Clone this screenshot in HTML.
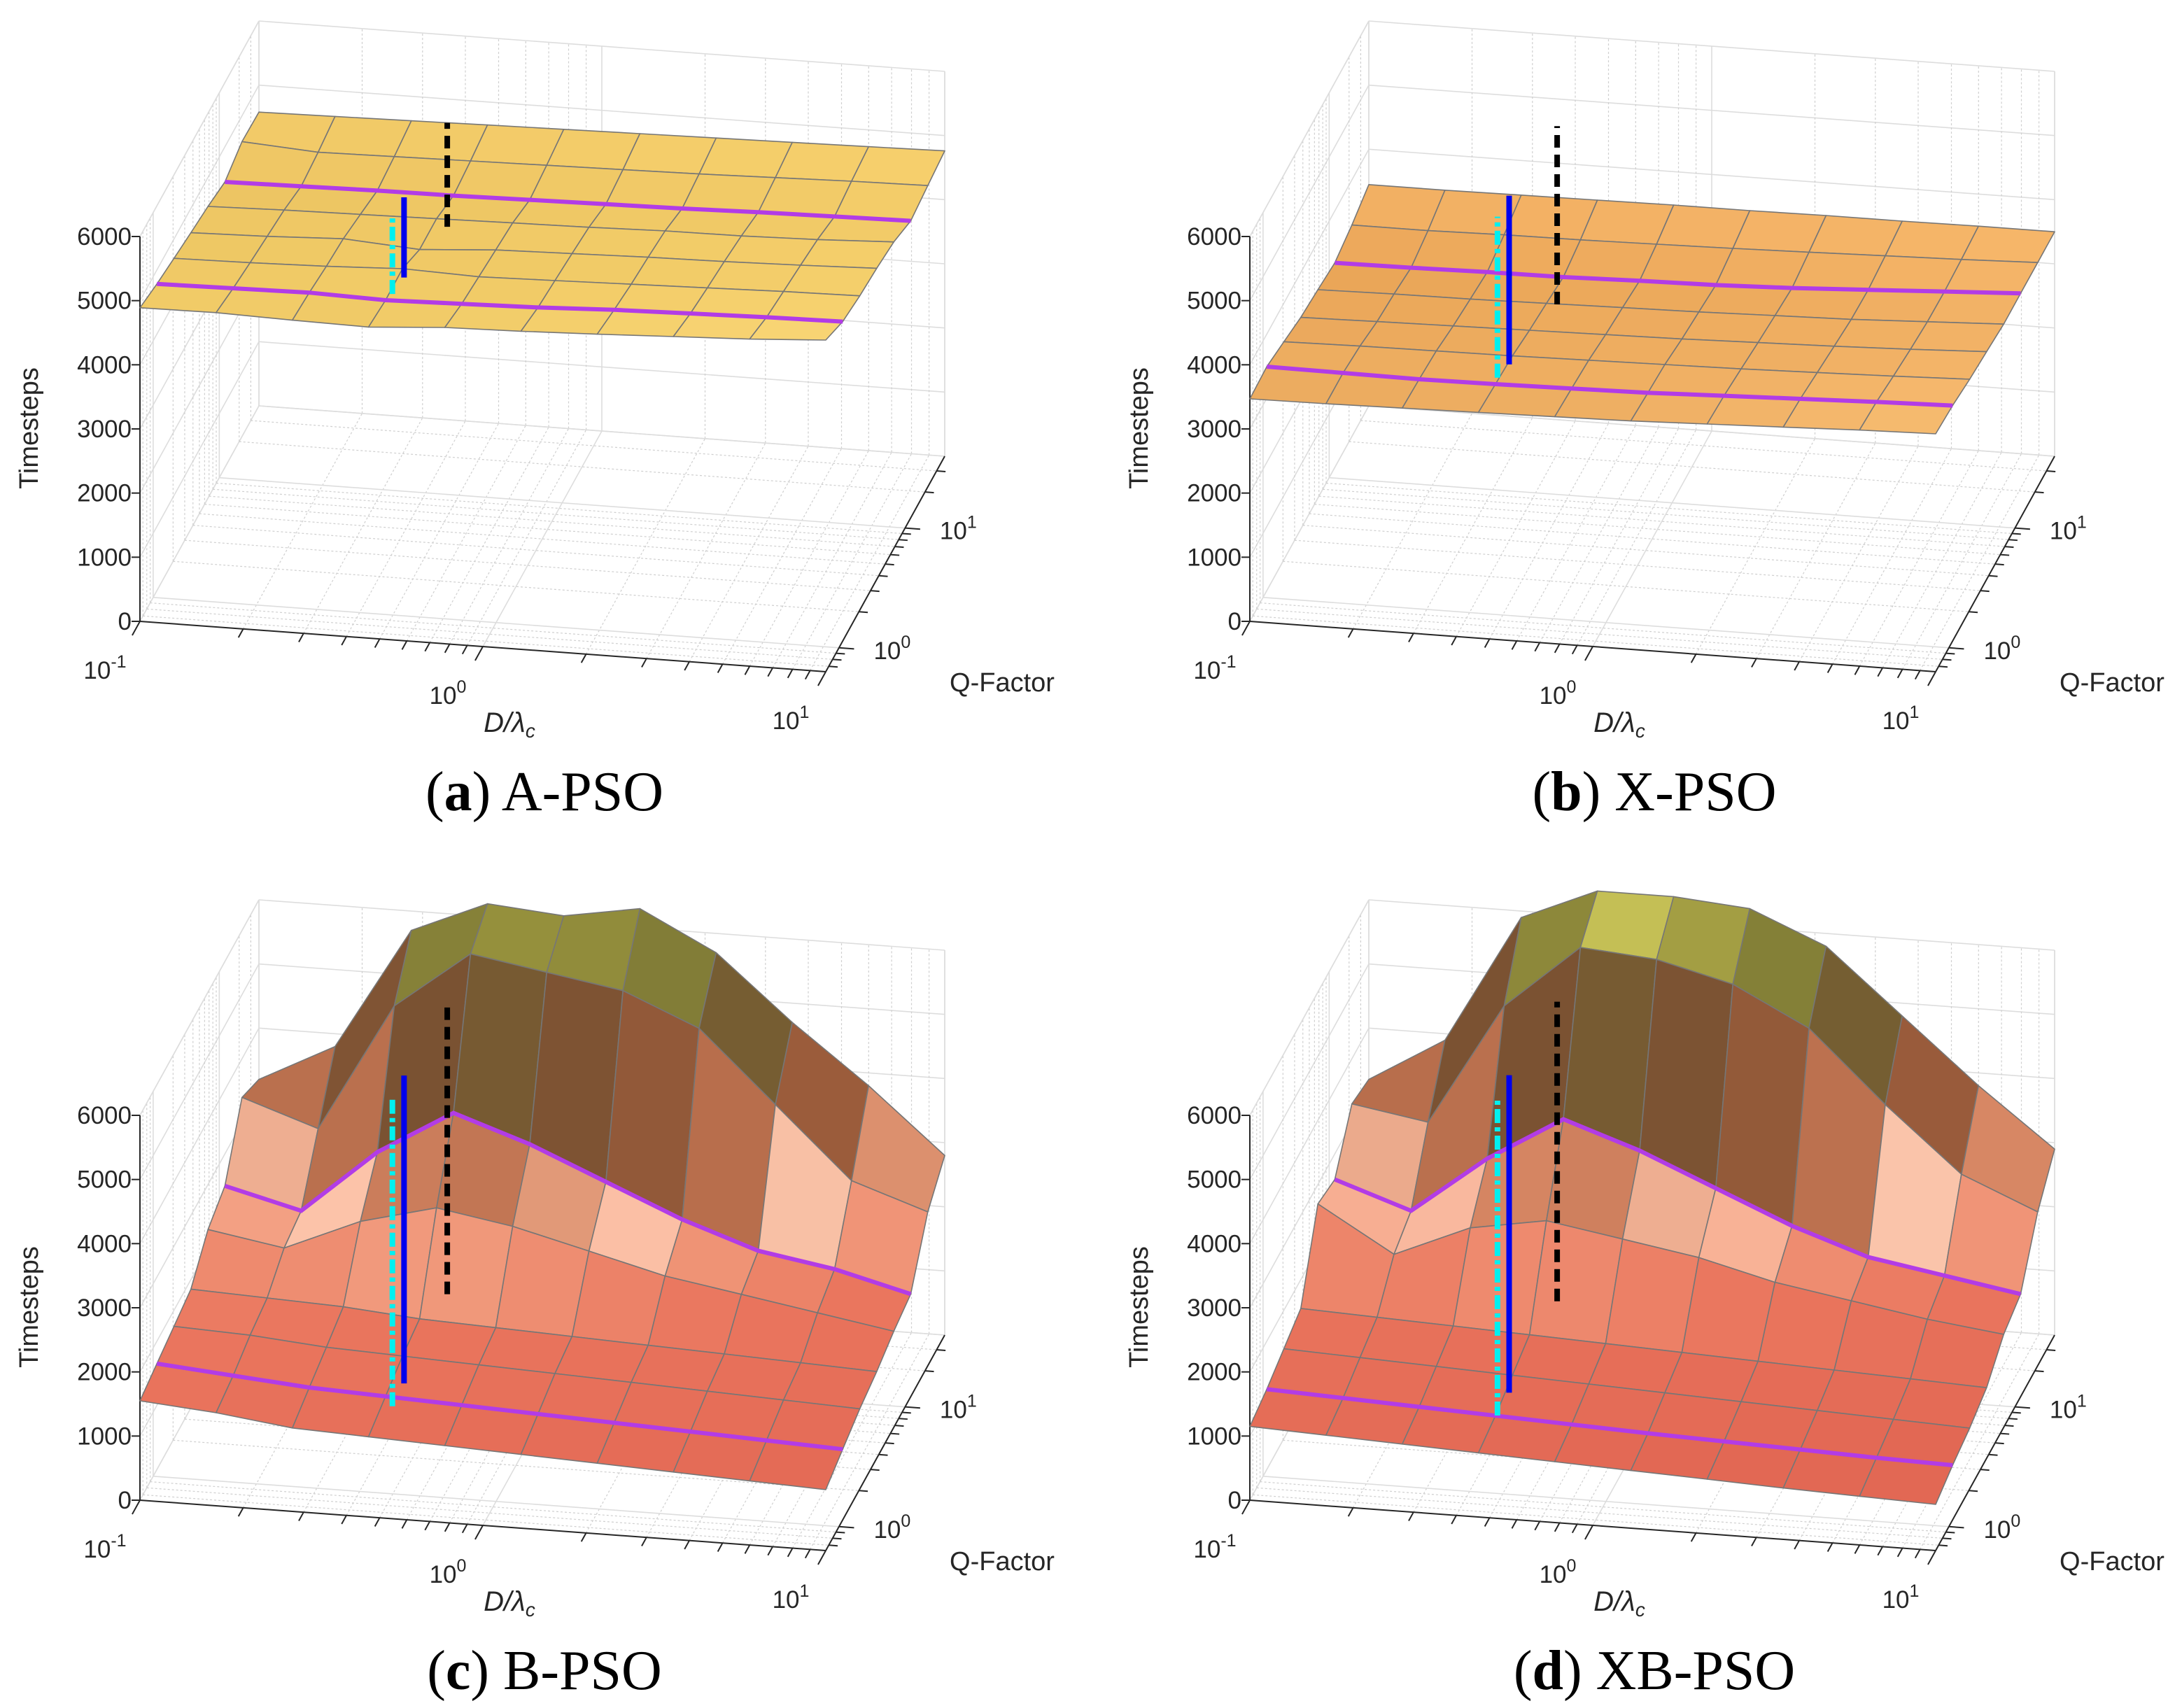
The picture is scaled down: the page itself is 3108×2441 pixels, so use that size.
<!DOCTYPE html>
<html><head><meta charset="utf-8"><style>
html,body{margin:0;padding:0;background:#fff;}
svg{display:block;}
text{font-family:"Liberation Sans",sans-serif;}
.cap{font-family:"Liberation Serif",serif;font-size:40px;}
</style></head><body>
<svg id="fig" width="3108" height="2441" viewBox="0 0 1554 1220.5" xmlns="http://www.w3.org/2000/svg"></svg>
<script>
// ---- data ----
const zTicks = [0,1000,2000,3000,4000,5000,6000];
const dTickLabels = ["-1","0","1"];
const qTickLabels = ["0","1"];
const panelNames = ["a","b","c","d"];
const panelTitles = ["A-PSO","X-PSO","B-PSO","XB-PSO"];
const surfA = [
[4890,4900,4870,4850,4930,4960,5000,5050,5100,5170],
[4780,4800,4820,4790,4820,4850,4900,4930,4960,4980],
[4700,4720,4750,4800,4760,4790,4820,4850,4880,4900],
[4620,4650,4700,4620,4700,4730,4760,4780,4810,4850],
[4550,4580,4600,4620,4640,4660,4690,4700,4730,4780],
[4450,4470,4490,4500,4520,4540,4560,4590,4610,4630],
[4600,4520,4540,4560,4580,4600,4620,4650,4680,4700],
[4580,4600,4620,4640,4660,4680,4700,4720,4740,4760]];
const surfB = [
[3470,3480,3500,3520,3540,3560,3600,3640,3680,3710],
[3490,3480,3470,3480,3500,3520,3560,3600,3640,3670],
[3400,3420,3430,3440,3460,3480,3500,3530,3560,3600],
[3300,3320,3340,3360,3380,3400,3430,3460,3500,3550],
[3250,3270,3280,3300,3320,3340,3370,3400,3450,3500],
[3190,3200,3220,3230,3260,3280,3320,3380,3440,3500],
[3300,3300,3320,3330,3350,3370,3400,3430,3460,3500],
[3450,3450,3460,3470,3480,3480,3490,3490,3500,3500]];
const surfC = [
[1550,1450,1300,1250,1200,1150,1100,1050,1000,950],
[1650,1550,1450,1400,1350,1300,1250,1200,1150,1100],
[1750,1700,1600,1550,1500,1450,1400,1350,1300,1250],
[1850,1800,1750,1650,1600,1550,1500,1450,1400,1350],
[2300,2100,2600,2900,2700,2400,2100,1900,1700,1500],
[2500,2200,3200,3900,3500,3000,2500,2100,1900,1600],
[3400,3000,5000,5900,5700,5500,5000,3900,2800,2400],
[3200,3800,5700,6200,6100,6300,5700,4700,3800,2800]];
const surfD = [
[1150,1100,1050,1000,950,900,850,800,760,720],
[1250,1200,1150,1100,1050,1000,960,920,880,850],
[1400,1350,1300,1250,1200,1150,1100,1050,1000,950],
[1550,1500,1450,1400,1350,1300,1250,1200,1150,1100],
[2700,2000,2500,2700,2500,2300,2000,1800,1600,1450],
[2600,2200,3100,3800,3400,2900,2400,2000,1800,1600],
[3300,3100,5000,6000,5900,5600,5000,3900,2900,2400],
[3200,3900,5900,6400,6400,6300,5800,4800,3800,2900]];
const surfaces = [surfA,surfB,surfC,surfD];
// marker lines: [u, v, zLow, zHigh]
const blueLines  = [[0.307,0.45,4090,5340],[0.30,0.45,2730,5360],[0.307,0.45,550,5350],[0.30,0.45,400,5350]];
const cyanLines  = [[0.29,0.45,3820,5020],[0.283,0.45,2510,5020],[0.29,0.45,180,4990],[0.283,0.45,30,4990]];
const blackLines = [[0.37,0.45,4930,6550],[0.37,0.45,3720,6500],[0.37,0.45,1990,6460],[0.37,0.45,1880,6550]];
const purpleRows = [1,5];
// ---- layout ----
const origins = [[100,444],[893,444],[100,1072],[893,1072]];
const NS = "http://www.w3.org/2000/svg";
const svg = document.getElementById('fig');
function el(tag, attrs, parent){const e=document.createElementNS(NS,tag);for(const k in attrs)e.setAttribute(k,attrs[k]);(parent||svg).appendChild(e);return e;}
const qmin=-0.2,qspan=1.8;
function uOf(x){return (Math.log10(x)+1)/2;}
function vOf(q){return (Math.log10(q)-qmin)/qspan;}
const uMinor=[],uMajor=[0,0.5,1];
for(const d of [-1,0])for(let m=2;m<=9;m++)uMinor.push(uOf(m*Math.pow(10,d)));
const vMajor=[vOf(1),vOf(10)],vMinor=[];
for(const q of [0.7,0.8,0.9,2,3,4,5,6,7,8,9,20,30])vMinor.push(vOf(q));

function lerp(a,b,t){return [0,1,2].map(i=>Math.round(a[i]+(b[i]-a[i])*t));}
function colormap(stops,z){
  if(z<=stops[0][0])return stops[0][1];
  for(let i=1;i<stops.length;i++){if(z<=stops[i][0]){const t=(z-stops[i-1][0])/(stops[i][0]-stops[i-1][0]);return lerp(stops[i-1][1],stops[i][1],t);}}
  return stops[stops.length-1][1];
}
const stopsA=[[4450,[228,188,90]],[4800,[238,200,100]],[5200,[253,218,122]]];
const stopsB=[[3200,[226,158,80]],[3500,[236,172,96]],[3750,[248,190,115]]];
const stopsC=[[900,[226,104,84]],[1700,[234,118,94]],[2200,[240,150,120]],[2600,[255,205,180]],[3000,[215,135,100]],[3600,[165,95,62]],[4500,[122,82,50]],[5300,[112,108,50]],[6000,[150,145,60]],[6250,[215,210,95]],[6400,[255,252,215]]];
const stopsList=[stopsA,stopsB,stopsC,stopsC];

panelNames.forEach((pn,p)=>{
  const [ox,oy]=origins[p];
  const P=(u,v,z)=>[ox+490*u+85*v, oy+36*u-154*v-z*275/6000];
  const g=el('g',{});
  
  
  const pt=a=>a.map(q=>q[0].toFixed(1)+','+q[1].toFixed(1)).join(' ');
  const line=(a,b,st,parent)=>el('line',Object.assign({x1:a[0],y1:a[1],x2:b[0],y2:b[1]},st),parent||g);
  const grid=el('g',{},g);
  
  
  const maj={stroke:'#dddddd','stroke-width':0.8};
  const mnr={stroke:'#cfcfcf','stroke-width':0.6,'stroke-dasharray':'1.5,1.5'};
  zTicks.forEach(z=>{line(P(0,0,z),P(0,1,z),maj,grid);line(P(0,1,z),P(1,1,z),maj,grid);});
  uMajor.forEach(u=>{line(P(u,1,0),P(u,1,6000),maj,grid);line(P(u,0,0),P(u,1,0),maj,grid);});
  uMinor.forEach(u=>{line(P(u,1,0),P(u,1,6000),mnr,grid);line(P(u,0,0),P(u,1,0),mnr,grid);});
  vMajor.forEach(v=>{line(P(0,v,0),P(0,v,6000),maj,grid);line(P(0,v,0),P(1,v,0),maj,grid);});
  vMinor.forEach(v=>{line(P(0,v,0),P(0,v,6000),mnr,grid);line(P(0,v,0),P(1,v,0),mnr,grid);});
  line(P(0,1,0),P(0,1,6000),maj,grid);line(P(1,1,0),P(1,1,6000),maj,grid);
  line(P(0,0,6000),P(0,1,6000),maj,grid);line(P(1,1,0),P(0,1,0),maj,grid);
  const ax={stroke:'#262626','stroke-width':1};
  const xa=line(P(0,0,0),P(1,0,0),ax);
  
  
  const qa=line(P(1,0,0),P(1,1,0),ax);
  
  
  const za=line(P(0,0,0),P(0,0,6000),ax);
  
  
  uMajor.concat(uMinor).forEach((u,i)=>{const a=P(u,0,0);const L=i<3?0.065:0.04;const b=P(u,-L,0);line(a,b,ax);});
  vMajor.concat(vMinor).forEach((v,i)=>{const a=P(1,v,0);const L=i<2?0.022:0.013;const b=P(1+L,v,0);line(a,b,ax);});
  zTicks.forEach(z=>{const a=P(0,0,z);line(a,[a[0]-6,a[1]],ax);
    const t=el('text',{x:a[0]-6,y:a[1]+6,'font-size':17.5,'text-anchor':'end',fill:'#262626'},g);t.textContent=z;
    
    });
  dTickLabels.forEach((lab,i)=>{const a=P(uMajor[i],0,0);
    const t=el('text',{x:a[0]-25,y:a[1]+41,'font-size':17.5,'text-anchor':'middle',fill:'#262626'},g);
    
    
    t.appendChild(document.createTextNode('10'));const s=el('tspan',{dy:-8,'font-size':12.5},t);s.textContent=lab;});
  qTickLabels.forEach((lab,i)=>{const a=P(1,vMajor[i],0);
    const t=el('text',{x:a[0]+38,y:a[1]+8,'font-size':17.5,'text-anchor':'middle',fill:'#262626'},g);
    
    
    t.appendChild(document.createTextNode('10'));const s=el('tspan',{dy:-8,'font-size':12.5},t);s.textContent=lab;});
  const yl=el('text',{x:0,y:0,'font-size':19,'text-anchor':'middle',fill:'#262626',transform:`translate(${ox-73},${oy-138}) rotate(-90)`},g);
  yl.textContent='Timesteps';
  
  
  const xl=el('text',{x:ox+264,y:oy+79,'font-size':20,'text-anchor':'middle',fill:'#262626','font-family':'Liberation Serif, serif','font-style':'italic'},g);
  xl.textContent='D/λ';const sub=el('tspan',{dy:4,'font-size':14},xl);sub.textContent='c';
  
  
  const ql=el('text',{x:ox+616,y:oy+50,'font-size':19,'text-anchor':'middle',fill:'#262626'},g);
  ql.textContent='Q-Factor';
  
  
  const S=surfaces[p];const nj=S.length,ni=S[0].length;
  const sg=el('g',{},g);
  
  
  const U=i=>i/(ni-1),V=j=>j/(nj-1);
  for(let j=nj-2;j>=0;j--){for(let i=0;i<ni-1;i++){
    const zs=[S[j][i],S[j][i+1],S[j+1][i+1],S[j+1][i]];
    const zm=(zs[0]+zs[1]+zs[2]+zs[3])/4;
    let c=colormap(stopsList[p],zm);
    if(p<2){const b=(j+1)/(nj-1)*10;c=c.map(x=>Math.min(255,x+Math.round(b)));}
    const q=[P(U(i),V(j),zs[0]),P(U(i+1),V(j),zs[1]),P(U(i+1),V(j+1),zs[2]),P(U(i),V(j+1),zs[3])];
    const poly=el('polygon',{points:pt(q),fill:`rgb(${c})`,stroke:'#767676','stroke-width':0.8,'stroke-linejoin':'round'},sg);
    
    
  }}
  purpleRows.forEach(j=>{const pts=[];for(let i=0;i<ni;i++)pts.push(P(U(i),V(j),S[j][i]));
    const pl=el('polyline',{points:pt(pts),fill:'none',stroke:'#b23ce6','stroke-width':3},g);
    
    });
  const vline=(d,st,name)=>{const a=P(d[0],d[1],d[2]),b=P(d[0],d[1],d[3]);const l=line(a,b,st);
    
    };
  vline(cyanLines[p],{stroke:'#00f0f0','stroke-width':4,'stroke-dasharray':'10,3,3,3'},'cyan-dashdot-line');
  vline(blueLines[p],{stroke:'#0000ee','stroke-width':4},'blue-solid-line');
  vline(blackLines[p],{stroke:'#000','stroke-width':4,'stroke-dasharray':'9,5'},'black-dashed-line');
  const cap=el('text',{x:ox+289,y:oy+135,'text-anchor':'middle',class:'cap',fill:'#000'},g);
  
  
  cap.appendChild(document.createTextNode('('));
  const bb=el('tspan',{'font-weight':'bold'},cap);bb.textContent=pn;
  cap.appendChild(document.createTextNode(') '+panelTitles[p]));
});
</script>
</body></html>
